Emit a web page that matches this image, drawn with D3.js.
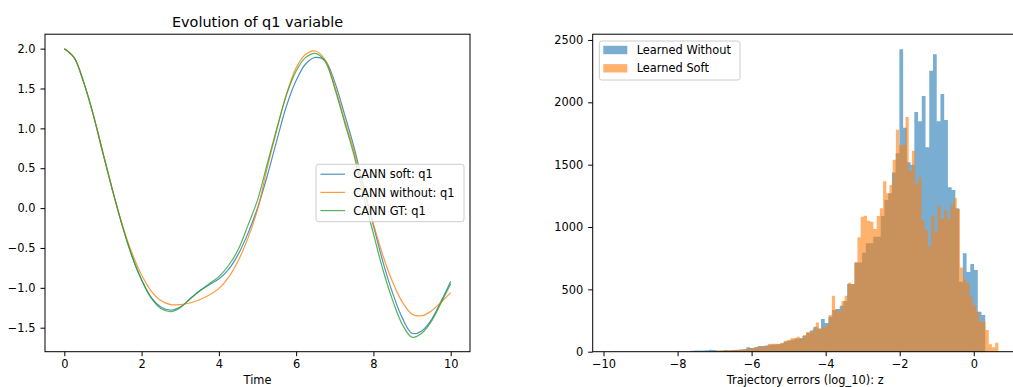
<!DOCTYPE html>
<html>
<head>
<meta charset="utf-8">
<script src="https://cdn.jsdelivr.net/npm/d3@7"></script>
<style>
  body { margin: 0; background: #fff; }
  svg { display: block; }
  text { font-family: "DejaVu Sans", sans-serif; fill: #000; }
</style>
</head>
<body>
<svg id="fig" width="1013" height="387"></svg>
<script>
// ---- q1 trajectories (left panel) ----
const times = [0, 0.25, 0.5, 0.75, 1, 1.25, 1.5, 1.75, 2, 2.25, 2.5, 2.75, 3, 3.25, 3.5, 3.75, 4,
  4.25, 4.5, 4.75, 5, 5.25, 5.5, 5.75, 6, 6.25, 6.5, 6.75, 7, 7.25, 7.5, 7.75, 8, 8.25, 8.5, 8.75,
  9, 9.25, 9.5, 9.75, 10];
const q1Soft = [2.00, 1.89, 1.58, 1.17, 0.69, 0.22, -0.22, -0.60, -0.90, -1.12, -1.24, -1.28, -1.24,
  -1.14, -1.04, -0.96, -0.89, -0.77, -0.58, -0.32, 0.00, 0.40, 0.85, 1.28, 1.60, 1.81, 1.89, 1.85,
  1.58, 1.18, 0.76, 0.26, -0.22, -0.68, -1.07, -1.38, -1.57, -1.54, -1.40, -1.17, -0.92];
const q1Without = [2.00, 1.89, 1.58, 1.17, 0.69, 0.22, -0.21, -0.56, -0.84, -1.04, -1.16, -1.21, -1.21,
  -1.19, -1.15, -1.09, -1.01, -0.87, -0.66, -0.38, -0.02, 0.50, 0.98, 1.43, 1.76, 1.93, 1.97, 1.86,
  1.53, 1.11, 0.71, 0.24, -0.20, -0.60, -0.93, -1.18, -1.33, -1.35, -1.29, -1.18, -1.06];
const q1GT = [2.00, 1.89, 1.58, 1.17, 0.69, 0.22, -0.22, -0.60, -0.90, -1.13, -1.26, -1.30, -1.25,
  -1.14, -1.04, -0.95, -0.86, -0.72, -0.52, -0.22, 0.10, 0.55, 1.00, 1.42, 1.72, 1.89, 1.94, 1.84,
  1.50, 1.08, 0.66, 0.14, -0.32, -0.78, -1.16, -1.46, -1.62, -1.57, -1.42, -1.19, -0.95];
const lineLabels = ["CANN soft: q1", "CANN without: q1", "CANN GT: q1"];
const timeTicks = [0, 2, 4, 6, 8, 10];
const q1Ticks = [-1.5, -1.0, -0.5, 0.0, 0.5, 1.0, 1.5, 2.0];

// ---- trajectory error histograms (right panel), 100 bins each ----
const withoutRange = [-9.77, 0.31];
const withoutCounts = [1, 0, 0, 0, 0, 0, 0, 0, 0, 0, 0, 0, 0, 0, 0, 0, 0, 0, 0, 0, 0,
  8, 10, 9, 10, 11, 16, 14, 8, 9, 13,
  12, 13, 15, 16, 20, 35, 30, 35, 45, 45,
  50, 55, 58, 60, 65, 80, 88, 95, 105, 107,
  125, 150, 170, 200, 187, 262, 230, 280, 335, 342,
  369, 406, 543, 543, 716, 716, 794, 869, 869, 922,
  922, 1088, 1216, 1270, 1438, 1591, 2425, 1797, 1520, 1500,
  1922, 1848, 2051, 1639, 2254, 2385, 1848, 2067, 1858, 1318,
  1297, 1150, 560, 789, 640, 703, 655, 321, 294];
const softRange = [-7.985, 0.665];
const softCounts = [1, 0, 0, 0, 0, 0, 0, 0, 0, 0, 0,
  6, 9, 10, 11, 12, 12, 13, 13, 18, 19,
  22, 25, 28, 35, 38, 43, 43, 61, 64, 64,
  61, 72, 88, 93, 107, 110, 120, 107, 134, 160,
  155, 187, 235, 182, 200, 208, 294, 449, 342, 321,
  406, 449, 553, 543, 716, 917, 1083, 1091, 1051, 1043,
  984, 1088, 1150, 1366, 1270, 1337, 1540, 1780, 1658, 1658,
  1882, 1450, 1612, 1345, 1399, 1051, 976, 843, 1091, 957,
  1171, 1065, 1137, 1065, 1171, 1233, 1144, 675, 580, 548,
  441, 374, 321, 241, 241, 175, 60, 35, 72];
const histLabels = ["Learned Without", "Learned Soft"];
const errTicks = [-10, -8, -6, -4, -2, 0];
const countTicks = [0, 500, 1000, 1500, 2000, 2500];

// ---- styling ----
const C = { blue: "#1f77b4", orange: "#ff7f0e", green: "#2ca02c" };
const FS = 11.4;
const TOP = 34.2, BOTTOM = 351.7, AXW = 425;
const L0 = 45, R0 = 592.7;

const svg = d3.select("#fig");
svg.append("rect").attr("width", 1013).attr("height", 387).attr("fill", "#fff");

function padDomain(lo, hi) { const r = hi - lo; return [lo - 0.05 * r, hi + 0.05 * r]; }

function drawAxes(g, x, y, xt, yt, yfmt) {
  const xa = g.append("g").attr("transform", `translate(0,${BOTTOM})`)
    .call(d3.axisBottom(x).tickValues(xt).tickSize(4.5).tickPadding(4.2).tickFormat(d3.format("d")));
  const ya = g.append("g").attr("transform", `translate(${x.range()[0]},0)`)
    .call(d3.axisLeft(y).tickValues(yt).tickSize(4.5).tickPadding(5).tickFormat(yfmt));
  [xa, ya].forEach(a => {
    a.select(".domain").remove();
    a.attr("font-family", null).attr("font-size", null);
    a.selectAll(".tick line").attr("stroke", "#000").attr("stroke-width", 1);
    a.selectAll(".tick text").style("font-size", FS + "px").attr("fill", "#000");
  });
  g.append("rect").attr("x", x.range()[0]).attr("y", TOP)
    .attr("width", AXW).attr("height", BOTTOM - TOP)
    .attr("fill", "none").attr("stroke", "#000").attr("stroke-width", 1);
}

// ================= left panel =================
const gL = svg.append("g");
const xL = d3.scaleLinear().domain(padDomain(d3.min(times), d3.max(times))).range([L0, L0 + AXW]);
const allQ = q1Soft.concat(q1Without, q1GT);
const yL = d3.scaleLinear().domain(padDomain(d3.min(allQ), d3.max(allQ))).range([BOTTOM, TOP]);

const series = [q1Soft, q1Without, q1GT];
const colors = [C.blue, C.orange, C.green];
const line = d3.line().x(d => xL(d[0])).y(d => yL(d[1])).curve(d3.curveCatmullRom.alpha(0.5));
series.forEach((s, i) => {
  gL.append("path").attr("d", line(times.map((t, j) => [t, s[j]])))
    .attr("fill", "none").attr("stroke", colors[i]).attr("stroke-width", 1.2)
    .attr("stroke-opacity", 0.8);
});
drawAxes(gL, xL, yL, timeTicks, q1Ticks, d3.format(".1f"));

gL.append("text").attr("x", L0 + AXW / 2).attr("y", 27).attr("text-anchor", "middle")
  .style("font-size", "14.4px").text("Evolution of q1 variable");
gL.append("text").attr("x", L0 + AXW / 2).attr("y", 384.3).attr("text-anchor", "middle")
  .style("font-size", FS + "px").text("Time");

// legend
const lgL = gL.append("g");
lgL.append("rect").attr("x", 316).attr("y", 164.3).attr("width", 148).attr("height", 57.4)
  .attr("rx", 2.5).attr("fill", "#fff").attr("fill-opacity", 0.8)
  .attr("stroke", "#cccccc").attr("stroke-width", 1);
lineLabels.forEach((lab, i) => {
  const cy = 174.2 + i * 18.2;
  lgL.append("line").attr("x1", 320.5).attr("x2", 345).attr("y1", cy).attr("y2", cy)
    .attr("stroke", colors[i]).attr("stroke-width", 1.2).attr("stroke-opacity", 0.8);
  lgL.append("text").attr("x", 353.3).attr("y", cy).attr("dy", "0.36em")
    .style("font-size", FS + "px").text(lab);
});

// ================= right panel =================
const gR = svg.append("g");
const xR = d3.scaleLinear()
  .domain(padDomain(Math.min(withoutRange[0], softRange[0]), Math.max(withoutRange[1], softRange[1])))
  .range([R0, R0 + AXW]);
const maxCount = d3.max(withoutCounts.concat(softCounts));
const yR = d3.scaleLinear().domain([0, maxCount * 1.05]).range([BOTTOM, TOP]);

function binsOf(range, counts) {
  const w = (range[1] - range[0]) / counts.length;
  const pts = counts.map((c, i) => ({ x: range[0] + i * w, c }));
  pts.push({ x: range[1], c: counts[counts.length - 1] });
  return pts;
}
const area = d3.area().curve(d3.curveStepAfter)
  .x(d => xR(d.x)).y0(yR(0)).y1(d => yR(d.c));
gR.append("path").attr("d", area(binsOf(withoutRange, withoutCounts)))
  .attr("fill", C.blue).attr("fill-opacity", 0.6);
gR.append("path").attr("d", area(binsOf(softRange, softCounts)))
  .attr("fill", C.orange).attr("fill-opacity", 0.6);

drawAxes(gR, xR, yR, errTicks, countTicks, d3.format("d"));
gR.append("text").attr("x", R0 + AXW / 2).attr("y", 384.3).attr("text-anchor", "middle")
  .style("font-size", FS + "px").text("Trajectory errors (log_10): z");

const lgR = gR.append("g");
lgR.append("rect").attr("x", 599.3).attr("y", 41).attr("width", 140.7).attr("height", 39)
  .attr("rx", 2.5).attr("fill", "#fff").attr("fill-opacity", 0.8)
  .attr("stroke", "#cccccc").attr("stroke-width", 1);
[C.blue, C.orange].forEach((col, i) => {
  const cy = 50 + i * 18.3;
  lgR.append("rect").attr("x", 603.3).attr("y", cy - 4.2).attr("width", 24).attr("height", 8.4)
    .attr("fill", col).attr("fill-opacity", 0.6);
  lgR.append("text").attr("x", 636.7).attr("y", cy).attr("dy", "0.36em")
    .style("font-size", FS + "px").text(histLabels[i]);
});
</script>
</body>
</html>
